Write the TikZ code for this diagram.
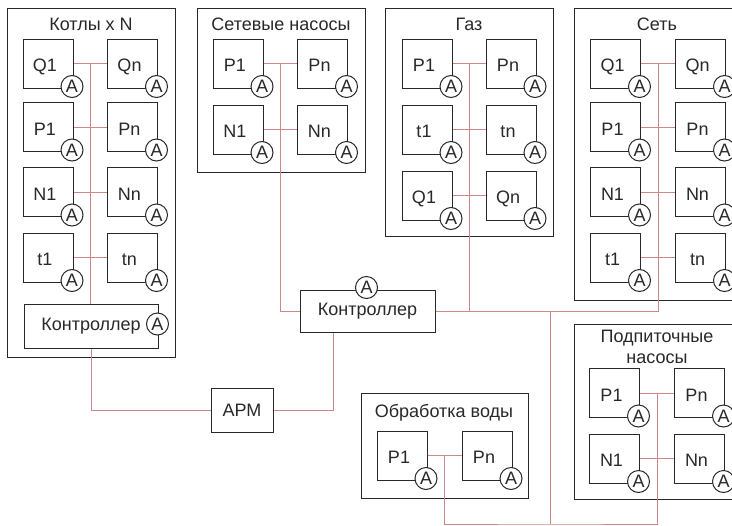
\documentclass[tikz,border=0pt]{standalone}
\usepackage{fontspec}
\setmainfont{Liberation Sans}
\usetikzlibrary{fit,calc}
\definecolor{wire}{RGB}{204,136,136}
\definecolor{ink}{RGB}{40,40,40}

\begin{document}
\begin{tikzpicture}[x=0.75pt,y=-0.75pt,font=\fontsize{13.5}{16}\selectfont,text=ink]
    % `sensor' is used for the measured values, `meter' for the A circles.
    % `section' is the frame round each part of the plant.
    % `unit' is used for controllers and the APM.
    \tikzstyle{meter} = [draw=ink,line width=0.75pt,circle,fill=white,minimum size=16.5pt,inner sep=0pt,anchor=center,xshift=-0.75pt,yshift=1.5pt]
    \tikzstyle{sensor} = [draw=ink,line width=0.75pt,minimum width=37.5pt,minimum height=36.75pt,inner sep=0pt,text height=12pt,text depth=0pt,execute at end node=\kern4.5pt,label={[meter]-45:A}]
    \tikzstyle{unit} = [draw=ink,line width=0.75pt,minimum height=33pt,inner sep=0pt]
    \tikzstyle{section} = [draw=ink,line width=0.75pt,inner sep=0pt]
    \tikzstyle{wire} = [draw=wire,line width=0.75pt]
    %
    \useasboundingbox (0,0) rectangle (732,525);
    \clip (0,0) rectangle (732,525);
    %
    % Frames and titles.
    \node[section,fit={(7,8)(175,357)}] (kotly) {};
    \node[anchor=base] (kotlyt) at (91,30) {Котлы x N};
    \node[section,fit={(197,8)(365,172)}] (pumps) {};
    \node[anchor=base] (pumpst) at (281,30) {Сетевые насосы};
    \node[section,fit={(385,8)(553,236)}] (gas) {};
    \node[anchor=base] (gast) at (469,30) {Газ};
    \node[section,fit={(574,8)(741,300)}] (net) {};
    \node[anchor=base] (nett) at (657,30) {Сеть};
    \node[section,fit={(361,393)(528,498)}] (water) {};
    \node[anchor=base] (watert) at (444,417) {Обработка воды};
    \node[section,fit={(574,324)(741,499)}] (feed) {};
    \node[align=center] (feedt) at (657,347) {Подпиточные\\насосы};
    %
    % Boilers.
    \node[sensor] (kq1) at (48,63.5) {Q1};
    \node[sensor] (kqn) at (132.5,63.5) {Qn};
    \node[sensor] (kp1) at (48,127) {P1};
    \node[sensor] (kpn) at (132.5,127) {Pn};
    \node[sensor] (kn1) at (48,192) {N1};
    \node[sensor] (knn) at (132.5,192) {Nn};
    \node[sensor] (kt1) at (48,257.5) {t1};
    \node[sensor] (ktn) at (132.5,257.5) {tn};
    \node[unit,minimum width=100.5pt,label={[meter]0:A}] (kctl) at (91,326) {Контроллер};
    %
    % Network pumps.
    \node[sensor] (sp1) at (238,63.5) {P1};
    \node[sensor] (spn) at (322.5,63.5) {Pn};
    \node[sensor] (sn1) at (238,129.5) {N1};
    \node[sensor] (snn) at (322.5,129.5) {Nn};
    %
    % Gas.
    \node[sensor] (gp1) at (427,63.5) {P1};
    \node[sensor] (gpn) at (511,63.5) {Pn};
    \node[sensor] (gt1) at (427,129.5) {t1};
    \node[sensor] (gtn) at (511,129.5) {tn};
    \node[sensor] (gq1) at (427,195.5) {Q1};
    \node[sensor] (gqn) at (511,195.5) {Qn};
    %
    % Network.
    \node[sensor] (nq1) at (615.5,63.5) {Q1};
    \node[sensor] (nqn) at (700.5,63.5) {Qn};
    \node[sensor] (np1) at (615.5,127) {P1};
    \node[sensor] (npn) at (700.5,127) {Pn};
    \node[sensor] (nn1) at (615.5,192) {N1};
    \node[sensor] (nnn) at (700.5,192) {Nn};
    \node[sensor] (nt1) at (615.5,257.5) {t1};
    \node[sensor] (ntn) at (700.5,257.5) {tn};
    %
    % Water treatment and make-up pumps.
    \node[sensor] (wp1) at (402,455.5) {P1};
    \node[sensor] (wpn) at (487,455.5) {Pn};
    \node[sensor] (fp1) at (614.5,393) {P1};
    \node[sensor] (fpn) at (699.5,393) {Pn};
    \node[sensor] (fn1) at (614.5,458.5) {N1};
    \node[sensor] (fnn) at (699.5,458.5) {Nn};
    %
    % Main controller and APM.
    \node[unit,minimum width=101.25pt,minimum height=31.5pt,label={[meter]90:A}] (ctl) at (367.5,311) {Контроллер};
    \node[unit,minimum width=46.5pt] (apm) at (242,410) {АРМ};
    %
    % Wires.
    \draw[wire] (kq1.east) -- (kqn.west) (kp1.east) -- (kpn.west) (kn1.east) -- (knn.west) (kt1.east) -- (ktn.west);
    \coordinate (ktop) at ($(kq1.east)!.5!(kqn.west)$);
    \draw[wire] (ktop) -- (ktop |- kctl.north);
    \draw[wire] (kctl.south) |- (apm.west);
    \draw[wire] (apm.east) -| ($(ctl.south west)!.25!(ctl.south east)$);
    %
    \draw[wire] (sp1.east) -- (spn.west) (sn1.east) -- (snn.west);
    \coordinate (stop) at ($(sp1.east)!.5!(spn.west)$);
    \draw[wire] (stop) |- (ctl.west);
    %
    \draw[wire] (gp1.east) -- (gpn.west) (gt1.east) -- (gtn.west) (gq1.east) -- (gqn.west);
    \coordinate (gtop) at ($(gp1.east)!.5!(gpn.west)$);
    \draw[wire] (gtop) -- (gtop |- ctl.east);
    %
    \draw[wire] (nq1.east) -- (nqn.west) (np1.east) -- (npn.west) (nn1.east) -- (nnn.west) (nt1.east) -- (ntn.west);
    \coordinate (ntop) at ($(nq1.east)!.5!(nqn.west)$);
    \draw[wire] (ctl.east) -| (ntop);
    %
    \draw[wire] (wp1.east) -- (wpn.west);
    \draw[wire] (fp1.east) -- (fpn.west) (fn1.east) -- (fnn.west);
    \coordinate (wtop) at ($(wp1.east)!.5!(wpn.west)$);
    \coordinate (ftop) at ($(fp1.east)!.5!(fpn.west)$);
    \coordinate (drop) at (550,524);
    \draw[wire] (drop |- ctl.east) -- (drop);
    \draw[wire] (wtop) |- (drop) -| (ftop);
\end{tikzpicture}
\end{document}
